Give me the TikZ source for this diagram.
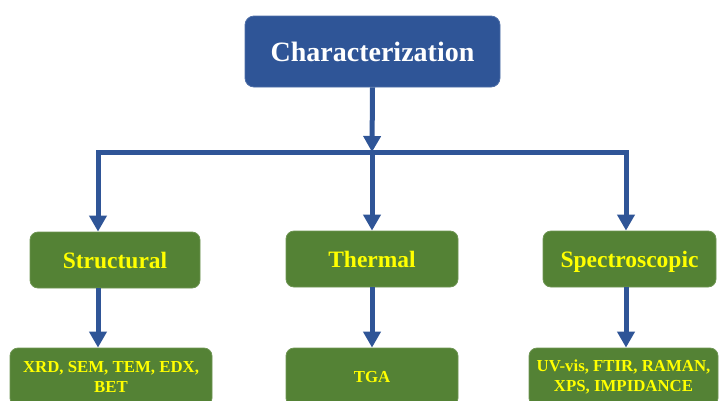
\documentclass[tikz,border=0pt]{standalone}
\usepackage{fontspec}
\setmainfont{Liberation Serif}
\usepackage{tikz}
\usetikzlibrary{calc}
\usetikzlibrary{arrows.meta,positioning}
\definecolor{boxblue}{RGB}{47,85,151}
\definecolor{boxgreen}{RGB}{84,130,53}
\definecolor{txtyellow}{RGB}{255,255,0}
\tikzset{
  headbox/.style={rectangle,rounded corners=9pt,fill=boxblue,draw=boxblue!85!white,line width=0.8pt,
    text=white,font=\fontsize{28}{32}\selectfont\bfseries,minimum width=255pt,minimum height=71pt},
  groupbox/.style={rectangle,rounded corners=8pt,fill=boxgreen,draw=boxgreen!85!white,line width=0.8pt,
    text=txtyellow,font=\fontsize{23.5}{28}\selectfont\bfseries,text height=18.5pt,text depth=2.5pt,minimum height=56pt},
  methodbox/.style={rectangle,rounded corners=8pt,fill=boxgreen,draw=boxgreen!85!white,line width=0.8pt,
    text=txtyellow,font=\fontsize{16.8}{19.5}\selectfont\bfseries,align=center,minimum height=58pt},
  link/.style={draw=boxblue,line width=5pt},
  tip/.style={-{Triangle[width=17pt,length=16pt]}}
}

\begin{document}
\begin{tikzpicture}[x=1pt,y=-1pt]
        \useasboundingbox (0,0) rectangle (720,400);

        \node[headbox] (char) at (372.5,51.5) {Characterization};

        \node[groupbox,minimum width=170pt] (struct) at (115,260) {Structural};
        \node[groupbox,minimum width=172pt] (therm) at (372,259) {Thermal};
        \node[groupbox,minimum width=173pt] (spec) at (629.5,259) {Spectroscopic};

        \node[methodbox,minimum width=202pt] (tstruct) at (111,377) {XRD, SEM, TEM, EDX,\\BET};
        \node[methodbox,minimum width=172pt] (ttherm) at (372,377) {TGA};
        \node[methodbox,minimum width=189pt] (tspec) at (623.5,377) {UV-vis, FTIR, RAMAN,\\XPS, IMPIDANCE};

        \coordinate (jc) at (372,152);
        \coordinate (jl) at (98,152);
        \coordinate (jr) at (626,152);

        \draw[link,tip] (char.south) -- (jc);
        \draw[link,tip] (jc) -| (jl |- struct.north);
        \draw[link,tip] (jc) -| (jr |- spec.north);
        \draw[link,tip] (jc) -- (therm.north);

        \draw[link,tip] (jl |- struct.south) -- (jl |- tstruct.north);
        \draw[link,tip] (therm.south) -- (ttherm.north);
        \draw[link,tip] (jr |- spec.south) -- (jr |- tspec.north);

      \end{tikzpicture}
\end{document}
